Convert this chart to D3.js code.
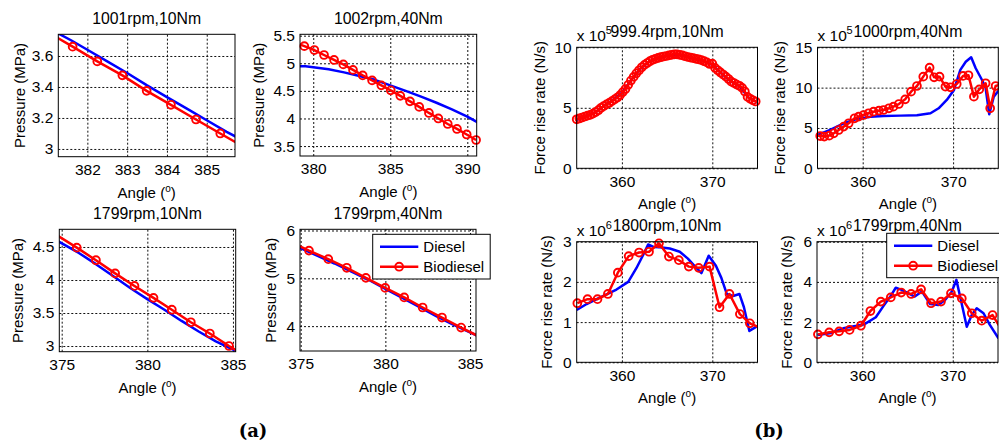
<!DOCTYPE html>
<html><head><meta charset="utf-8">
<script src="https://cdn.jsdelivr.net/npm/d3@7"></script>
<style>
body{margin:0;background:#fff;}
svg{display:block;font-family:"Liberation Sans",Arial,Helvetica,sans-serif;}
</style></head><body>
<svg id="chart" width="999" height="446"></svg>
<script>
// ---------------- DATA ----------------
const titles = ["1001rpm,10Nm","1002rpm,40Nm","1799rpm,10Nm","1799rpm,40Nm",
                "999.4rpm,10Nm","1000rpm,40Nm","1800rpm,10Nm","1799rpm,40Nm"];
const yLabels = ["Pressure (MPa)","Pressure (MPa)","Pressure (MPa)","Pressure (MPa)",
                 "Force rise rate (N/s)","Force rise rate (N/s)","Force rise rate (N/s)","Force rise rate (N/s)"];
const exponents = [null,null,null,null,5,5,6,6];
const xTicks = [[382,383,384,385],[380,385,390],[375,380,385],[375,380,385],
                [360,370],[360,370],[360,370],[360,370]];
const yTicks = [[3,3.2,3.4,3.6],[3.5,4,4.5,5,5.5],[3,3.5,4,4.5],[4,5,6],
                [0,5,10],[0,5,10,15],[0,1,2,3],[0,2,4,6]];
const xDomains = [[381.27,385.71],[379.14,390.61],[374.86,385.16],[374.96,385.35],
                  [355,375],[355,375],[355,375],[355,375]];
const yDomains = [[2.95,3.74],[3.32,5.525],[2.914,4.768],[3.48,6.025],
                  [0,10],[0,15],[0,3],[0,6]];
const seriesNames = ["Diesel","Biodiesel"];
const captions = ["(a)","(b)"];

// Pressure (MPa) vs angle
const diesel1 = [[381.2,3.755],[381.6,3.70],[382,3.64],[382.5,3.565],[383,3.49],[383.5,3.41],[384,3.335],[384.5,3.26],[385,3.185],[385.5,3.11],[385.8,3.07]];
const bio1 = [[381.0,3.755],[381.63,3.66],[382.25,3.565],[382.88,3.475],[383.49,3.375],[384.1,3.285],[384.73,3.19],[385.34,3.10],[385.95,3.01]];
const diesel2 = [[378.8,4.95],[379.5,4.945],[380,4.93],[381,4.89],[382,4.835],[383,4.77],[384,4.70],[385,4.60],[386,4.50],[387,4.395],[388,4.285],[389,4.165],[390,4.035],[390.8,3.91]];
const bio2 = [[378.81,5.375],[379.42,5.31],[380.07,5.24],[380.70,5.15],[381.35,5.06],[381.95,4.98],[382.58,4.88],[383.21,4.78],[383.82,4.69],[384.42,4.60],[385.03,4.51],[385.65,4.41],[386.28,4.31],[386.88,4.21],[387.51,4.10],[388.12,4.0],[388.73,3.90],[389.33,3.81],[389.96,3.71],[390.57,3.61]];
const diesel3 = [[374.7,4.60],[376,4.41],[377,4.24],[378,4.06],[379,3.88],[380,3.71],[381,3.55],[382,3.38],[383,3.22],[384,3.07],[385.3,2.91]];
const bio3 = [[374.77,4.67],[375.88,4.49],[377.0,4.30],[378.12,4.10],[379.25,3.91],[380.36,3.73],[381.43,3.55],[382.54,3.36],[383.65,3.19],[384.77,3.0],[385.88,2.83]];
const diesel4 = [[374.8,5.66],[376,5.47],[377,5.31],[378,5.14],[379,4.97],[380,4.78],[381,4.59],[382,4.40],[383,4.21],[384,4.03],[385.5,3.79]];
const bio4 = [[374.36,5.77],[375.49,5.58],[376.63,5.40],[377.72,5.22],[378.85,5.01],[379.99,4.80],[381.11,4.60],[382.2,4.39],[383.34,4.18],[384.47,3.97],[385.6,3.77]];

// Force rise rate (x10^5 / x10^6 N/s) vs angle
const diesel5 = [[355,4.0],[356,4.3],[357,4.6],[358,5.15],[359,5.65],[360,6.25],[361,7.25],[362,8.2],[363,8.8],[364,9.1],[365,9.3],[366,9.4],[367,9.28],[368,9.05],[369,8.88],[370,8.55],[371,7.85],[372,7.2],[373,6.78],[374,5.85],[375,5.45]];
const bio5 = [[355.0,4.05],[355.3,4.12],[355.6,4.2],[355.9,4.28],[356.2,4.35],[356.5,4.42],[356.8,4.52],[357.1,4.65],[357.4,4.8],[357.7,5.0],[358.0,5.15],[358.3,5.28],[358.6,5.4],[358.9,5.55],[359.2,5.7],[359.5,5.85],[359.8,6.05],[360.1,6.3],[360.4,6.55],[360.7,6.9],[361.0,7.25],[361.3,7.55],[361.6,7.85],[361.9,8.1],[362.2,8.35],[362.5,8.55],[362.8,8.7],[363.1,8.85],[363.4,8.97],[363.7,9.05],[364.0,9.12],[364.3,9.18],[364.6,9.24],[364.9,9.28],[365.2,9.33],[365.5,9.38],[365.8,9.42],[366.1,9.42],[366.4,9.38],[366.7,9.33],[367.0,9.26],[367.3,9.2],[367.6,9.15],[367.9,9.1],[368.2,9.05],[368.5,9.0],[368.8,8.94],[369.1,8.85],[369.4,8.75],[369.7,8.62],[370.0,8.65],[370.3,8.3],[370.6,8.1],[370.9,7.92],[371.2,7.75],[371.5,7.58],[371.8,7.38],[372.1,7.16],[372.4,7.05],[372.7,6.92],[373.0,6.82],[373.3,6.65],[373.6,6.35],[373.9,5.9],[374.2,5.75],[374.5,5.62],[374.8,5.52],[375.1,5.45]];
const diesel6 = [[355.0,4.13],[356.4,4.75],[357.9,5.58],[359.4,6.12],[360.85,6.4],[362.3,6.49],[364.2,6.53],[366.0,6.57],[367.5,6.82],[368.4,7.44],[369.3,8.47],[370.1,9.71],[370.8,12.2],[371.4,13.2],[372.0,13.76],[372.5,12.4],[373.2,10.95],[373.6,9.92],[374.0,6.7],[374.5,8.88],[375.1,9.75]];
const bio6 = [[354.7,4.1],[355.3,4.0],[355.75,3.93],[356.3,4.05],[356.8,4.34],[357.35,4.75],[357.9,5.17],[358.45,5.58],[359.1,6.2],[359.55,6.4],[360.1,6.61],[360.65,6.82],[361.2,7.02],[361.8,7.15],[362.3,7.23],[362.9,7.44],[363.4,7.64],[364.0,7.97],[364.7,8.55],[365.35,9.5],[366.0,10.2],[366.7,11.36],[367.4,12.48],[367.9,11.28],[368.5,11.36],[369.15,10.12],[369.7,10.04],[370.4,10.45],[371.1,11.45],[371.7,11.53],[372.3,8.88],[372.9,9.79],[373.6,10.54],[374.1,7.44],[374.7,10.2],[375.1,10.33]];
const diesel7 = [[355.0,1.30],[356.1,1.45],[357.2,1.57],[358.3,1.69],[359.4,1.81],[360.7,2.0],[361.6,2.34],[362.35,2.67],[362.9,2.93],[363.5,2.87],[364.2,2.86],[365.3,2.83],[366.4,2.75],[367.3,2.58],[368.1,2.38],[368.8,2.22],[369.6,2.65],[370.4,2.4],[371.0,2.1],[371.6,1.7],[372.3,1.65],[373.0,1.7],[373.5,1.37],[374.1,0.78],[375.0,0.9]];
const bio7 = [[355.07,1.47],[356.2,1.57],[357.3,1.57],[358.45,1.70],[359.55,2.23],[360.75,2.64],[361.9,2.73],[363.0,2.75],[364.1,2.96],[365.2,2.63],[366.3,2.54],[367.4,2.38],[368.5,2.35],[369.7,2.38],[370.8,1.37],[371.9,1.70],[373.05,1.2],[374.15,0.97],[375.3,0.86]];
const diesel8 = [[355.05,1.36],[356.4,1.44],[357.9,1.69],[359.4,1.82],[360.3,1.91],[361.5,2.24],[362.3,2.77],[363.1,3.27],[363.7,3.71],[364.35,3.6],[365.1,3.43],[365.8,3.27],[366.6,3.52],[367.5,2.9],[368.4,2.85],[369.15,3.1],[369.9,3.52],[370.4,4.1],[370.9,3.1],[371.55,1.77],[372.1,2.35],[372.65,2.69],[373.4,2.44],[374.1,1.86],[375.05,1.19]];
const bio8 = [[355.1,1.39],[356.35,1.49],[357.45,1.54],[358.6,1.61],[359.85,1.82],[360.9,2.55],[362.05,3.02],[363.15,3.23],[364.3,3.47],[365.4,3.4],[366.5,3.63],[367.6,2.94],[368.7,3.02],[369.8,3.43],[371.0,3.18],[372.1,2.44],[373.2,2.07],[374.4,2.35],[375.5,1.55]];

const dieselSeries = [diesel1,diesel2,diesel3,diesel4,diesel5,diesel6,diesel7,diesel8];
const bioSeries = [bio1,bio2,bio3,bio4,bio5,bio6,bio7,bio8];

// ---------------- LAYOUT (pixels) ----------------
const boxes = [
  {l:58.3, r:235,   t:34.3,  b:156.7, ylx:20},
  {l:300,  r:476.7, t:34.3,  b:156,   ylx:259},
  {l:59.3, r:235.7, t:229.3, b:351.7, ylx:18},
  {l:300,  r:476,   t:229.3, b:351,   ylx:270.7},
  {l:576.7,r:757.5, t:47.3,  b:168.3, ylx:540},
  {l:817.5,r:998.3, t:47.3,  b:168.3, ylx:780},
  {l:576.7,r:757.5, t:241.7, b:362.3, ylx:547},
  {l:817,  r:998,   t:241.7, b:362.3, ylx:787}
];
const legendBoxes = [{x:372.7,y:234.3,w:117.5,h:44.7},{x:886.7,y:233.3,w:130,h:44.4}];
const captionPos = [{x:253,y:437},{x:769,y:437}];

const BLUE = "#0000ff", RED = "#ff0000", FONT = 15, TICKFONT = 15.5, TITLEFONT = 15.8;
const FAMILY = "'Liberation Sans',Arial,Helvetica,sans-serif";
const svg = d3.select("#chart");
svg.append("rect").attr("width",999).attr("height",446).attr("fill","#fff");

boxes.forEach((bx, i) => {
  const g = svg.append("g");
  const x = d3.scaleLinear().domain(xDomains[i]).range([bx.l, bx.r]);
  const y = d3.scaleLinear().domain(yDomains[i]).range([bx.b, bx.t]);
  const w = bx.r - bx.l, h = bx.b - bx.t;

  g.append("rect").attr("x",bx.l).attr("y",bx.t).attr("width",w).attr("height",h).attr("fill","#fff");

  // x axis with grid
  g.append("g").attr("transform",`translate(0,${bx.b})`)
    .call(d3.axisBottom(x).tickValues(xTicks[i]).tickSize(-h).tickPadding(7.3).tickFormat(d => String(d)))
    .attr("font-family",FAMILY).attr("font-size",TICKFONT)
    .call(a => a.select(".domain").remove())
    .call(a => a.selectAll(".tick line").attr("stroke","#111").attr("stroke-width",1).attr("stroke-dasharray","2,2"))
    .call(a => a.selectAll(".tick text").attr("fill","#000"));
  // y axis with grid
  g.append("g").attr("transform",`translate(${bx.l},0)`)
    .call(d3.axisLeft(y).tickValues(yTicks[i]).tickSize(-w).tickPadding(5).tickFormat(d => String(d)))
    .attr("font-family",FAMILY).attr("font-size",TICKFONT)
    .call(a => a.select(".domain").remove())
    .call(a => a.selectAll(".tick line").attr("stroke","#111").attr("stroke-width",1).attr("stroke-dasharray","2,2"))
    .call(a => a.selectAll(".tick text").attr("fill","#000"));

  // clip
  const cid = "clip" + i;
  svg.append("clipPath").attr("id",cid).append("rect")
    .attr("x",bx.l).attr("y",bx.t).attr("width",w).attr("height",h);

  const line = d3.line().x(d => x(d[0])).y(d => y(d[1]));
  const plot = g.append("g").attr("clip-path",`url(#${cid})`);
  plot.append("path").datum(dieselSeries[i]).attr("d",line)
    .attr("fill","none").attr("stroke",BLUE).attr("stroke-width",2.5).attr("stroke-linejoin","round");
  plot.append("path").datum(bioSeries[i]).attr("d",line)
    .attr("fill","none").attr("stroke",RED).attr("stroke-width",2.5).attr("stroke-linejoin","round");
  const dom = xDomains[i];
  g.append("g").selectAll("circle")
    .data(bioSeries[i].filter(d => d[0] >= dom[0] - 0.05 && d[0] <= dom[1] + 0.01))
    .join("circle")
    .attr("cx", d => x(d[0])).attr("cy", d => y(d[1])).attr("r",3.9)
    .attr("fill","none").attr("stroke",RED).attr("stroke-width",1.9);

  // box
  g.append("rect").attr("x",bx.l).attr("y",bx.t).attr("width",w).attr("height",h)
    .attr("fill","none").attr("stroke","#000").attr("stroke-width",1);

  // title
  const cx = (bx.l + bx.r) / 2;
  g.append("text").attr("x",cx).attr("y",bx.t - 10.5).attr("text-anchor","middle")
    .attr("font-size",TITLEFONT).attr("fill","#000").text(titles[i]);
  // exponent
  if (exponents[i] !== null) {
    g.append("text").attr("x",bx.l).attr("y",bx.t - 6).attr("font-size",TICKFONT).attr("fill","#000").text("x 10");
    g.append("text").attr("x",bx.l + 29).attr("y",bx.t - 13).attr("font-size",11).attr("fill","#000").text(exponents[i]);
  }
  // x label
  const xl = g.append("text").attr("x",cx).attr("y",bx.b + 41).attr("text-anchor","middle")
    .attr("font-size",FONT).attr("fill","#000");
  xl.append("tspan").text("Angle (");
  xl.append("tspan").attr("font-size",10).attr("dy",-6).text("o");
  xl.append("tspan").attr("dy",6).text(")");
  // y label
  g.append("text").attr("transform",`translate(${bx.ylx},${(bx.t+bx.b)/2}) rotate(-90)`)
    .attr("text-anchor","middle").attr("dy","0.35em").attr("font-size",FONT).attr("fill","#000")
    .text(yLabels[i]);
});

// legends
legendBoxes.forEach(lb => {
  const g = svg.append("g");
  g.append("rect").attr("x",lb.x).attr("y",lb.y).attr("width",lb.w).attr("height",lb.h)
    .attr("fill","#fff").attr("stroke","#000").attr("stroke-width",1);
  const x0 = lb.x + 7.3, x1 = lb.x + 45.6, tx = lb.x + 50.6;
  const rows = [{y: lb.y + 12.4, c: BLUE, m: false}, {y: lb.y + 32.4, c: RED, m: true}];
  rows.forEach((r, k) => {
    g.append("line").attr("x1",x0).attr("x2",x1).attr("y1",r.y).attr("y2",r.y)
      .attr("stroke",r.c).attr("stroke-width",2.5);
    if (r.m) g.append("circle").attr("cx",(x0+x1)/2).attr("cy",r.y).attr("r",3.9)
      .attr("fill","none").attr("stroke",RED).attr("stroke-width",1.9);
    g.append("text").attr("x",tx).attr("y",r.y).attr("dy","0.35em").attr("font-size",FONT)
      .attr("fill","#000").text(seriesNames[k]);
  });
});

// captions
captionPos.forEach((p, k) => {
  svg.append("text").attr("x",p.x).attr("y",p.y).attr("text-anchor","middle")
    .attr("font-family","'DejaVu Serif','Liberation Serif',serif").attr("font-weight","bold")
    .attr("font-size",18).attr("fill","#000").text(captions[k]);
});
</script>
</body></html>
